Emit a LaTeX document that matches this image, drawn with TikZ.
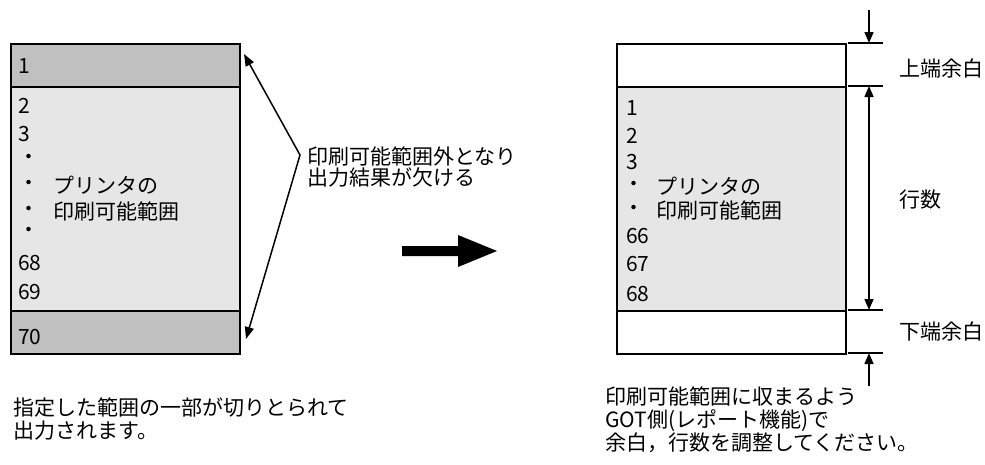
\documentclass[tikz,border=0pt]{standalone}
\usepackage{fontspec}
\setmainfont{Noto Sans CJK JP}
\usetikzlibrary{arrows.meta,calc}
\definecolor{darkband}{HTML}{C0C0C0}
\definecolor{lightband}{HTML}{E6E6E6}
\begin{document}
\begin{tikzpicture}[x=1pt,y=-1pt,
  band/.style={draw=black,line width=1.8pt,minimum width=229pt,inner sep=0pt,anchor=north west},
  txt/.style={font=\fontsize{21}{23}\selectfont,inner sep=0pt,anchor=west},
  dotc/.style={font=\fontsize{21}{23}\selectfont,inner sep=0pt,anchor=center},
  tick/.style={line width=1.5pt},
  dimarrow/.style={line width=1.5pt},
  tip/.tip={Triangle[length=11pt,width=9pt]},
  atip/.tip={Triangle[length=12pt,width=9pt]}]
\useasboundingbox (0,0) rectangle (985,464);

% ---- left page ----
\node[band,fill=lightband,minimum height=224pt] (lm) at (10,86) {};
\node[band,fill=darkband,minimum height=43pt] (lt) at (10,43) {};
\node[band,fill=darkband,minimum height=43pt] (lb) at (10,310) {};

\node[txt] (l1) at (18,66) {1};
\node[txt] (l2) at (18,106) {2};
\node[txt] (l3) at (18,134) {3};
\node[dotc] (ld1) at (29,159) {・};
\node[dotc] (ld2) at (29,185) {・};
\node[txt] (lp1) at (53,185) {プリンタの};
\node[dotc] (ld3) at (29,211) {・};
\node[txt] (lp2) at (53,211) {印刷可能範囲};
\node[dotc] (ld4) at (29,232) {・};
\node[txt] (l68) at (18,263) {68};
\node[txt] (l69) at (18,292) {69};
\node[txt] (l70) at (18,337) {70};

% annotation
\coordinate (tipA) at (244,54);
\coordinate (bend) at (300,155);
\coordinate (tipB) at (246,339);
\draw[line width=1.5pt,{atip}-{atip}] (tipA) -- (bend) -- (tipB);
\node[txt,align=left,font=\fontsize{21}{21.5}\selectfont] (note) at (307,167) {印刷可能範囲外となり\\出力結果が欠ける};

% bottom-left caption
\node[txt,align=left] (capL) at (13,419) {指定した範囲の一部が切りとられて\\出力されます。};

% big arrow
\coordinate (ba) at (402,251);
\coordinate (bb) at (497,251);
\fill ($(ba)+(0,-5)$) -- ($(bb)+(-39,-5)$) -- ($(bb)+(-39,-16)$) -- (bb) -- ($(bb)+(-39,16)$) -- ($(bb)+(-39,5)$) -- ($(ba)+(0,5)$) -- cycle;

% ---- right page ----
\node[band,fill=lightband,minimum height=224pt] (rm) at (616,86) {};
\node[band,fill=white,minimum height=43pt] (rt) at (616,43) {};
\node[band,fill=white,minimum height=43pt] (rb) at (616,310) {};

\node[txt] (r1) at (626,108) {1};
\node[txt] (r2) at (626,136) {2};
\node[txt] (r3) at (626,162) {3};
\node[dotc] (rd1) at (634,186) {・};
\node[txt] (rp1) at (656,186) {プリンタの};
\node[dotc] (rd2) at (634,210) {・};
\node[txt] (rp2) at (656,210) {印刷可能範囲};
\node[txt] (r66) at (626,236) {66};
\node[txt] (r67) at (626,264) {67};
\node[txt] (r68) at (626,294) {68};

% dimension ticks
\coordinate (t1a) at (848,43);  \coordinate (t1b) at (883,43);
\coordinate (t2a) at (848,86);  \coordinate (t2b) at (883,86);
\coordinate (t3a) at (848,310); \coordinate (t3b) at (883,310);
\coordinate (t4a) at (848,353); \coordinate (t4b) at (883,353);
\draw[tick] (t1a) -- (t1b);
\draw[tick] (t2a) -- (t2b);
\draw[tick] (t3a) -- (t3b);
\draw[tick] (t4a) -- (t4b);

\coordinate (topstart) at (869,10);
\coordinate (topend) at (869,43);
\coordinate (midA) at (869,86);
\coordinate (midB) at (869,310);
\coordinate (botstart) at (869,386);
\coordinate (botend) at (869,353);
\draw[dimarrow,-{tip}] (topstart) -- (topend);
\draw[dimarrow,{tip}-{tip}] (midA) -- (midB);
\draw[dimarrow,-{tip}] (botstart) -- (botend);

\node[txt] (top) at (899,68) {上端余白};
\node[txt] (rows) at (899,200) {行数};
\node[txt] (bot) at (899,331) {下端余白};

% bottom-right caption
\node[txt,align=left] (capR) at (605,420) {印刷可能範囲に収まるよう\\GOT側(レポート機能)で\\余白，行数を調整してください。};
\end{tikzpicture}
\end{document}
